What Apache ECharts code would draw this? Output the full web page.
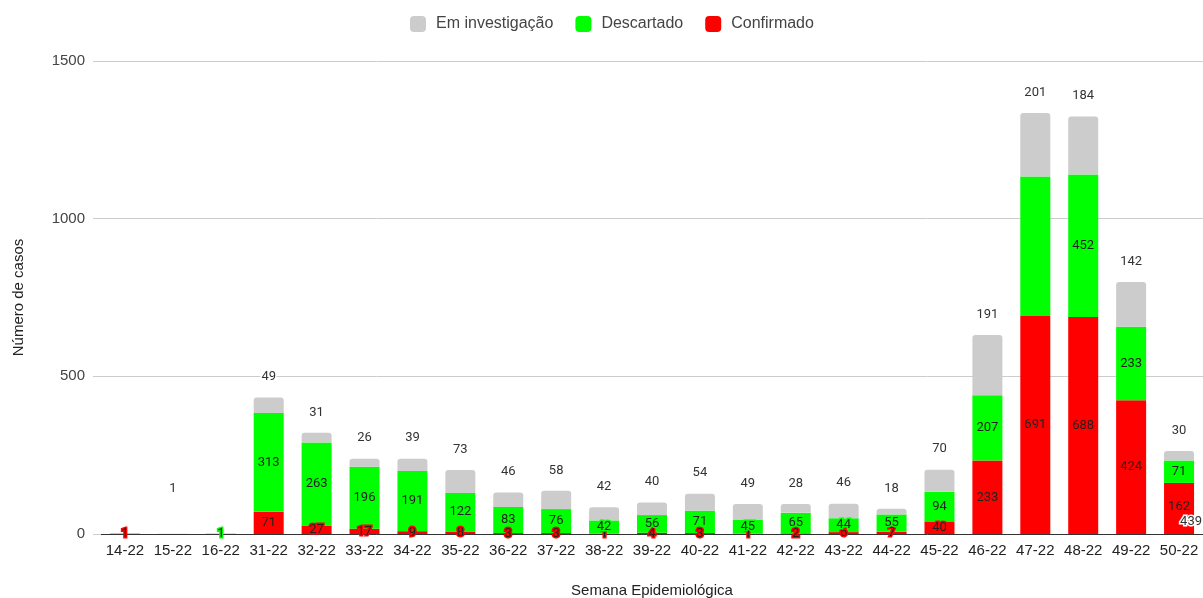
<!DOCTYPE html>
<html>
<head>
<meta charset="utf-8">
<script src="https://cdn.jsdelivr.net/npm/echarts@6/dist/echarts.min.js"></script>
<style>
html,body{margin:0;padding:0;background:#fff;}
#chart{width:1203px;height:598px;}
</style>
</head>
<body>
<div id="chart"></div>
<script>
const categories = ['14-22','15-22','16-22','31-22','32-22','33-22','34-22','35-22','36-22','37-22','38-22','39-22','40-22','41-22','42-22','43-22','44-22','45-22','46-22','47-22','48-22','49-22','50-22'];
const confirmado = [1,0,0,71,27,17,9,8,3,3,1,4,3,1,2,6,7,40,233,691,688,424,162];
const descartado = [0,0,1,313,263,196,191,122,83,76,42,56,71,45,65,44,55,94,207,443,452,233,71];
const investigacao = [0,1,0,49,31,26,39,73,46,58,42,40,54,49,28,46,18,70,191,201,184,142,30];
const extraLabel = '439';
const yTicks = [0,500,1000,1500];

const COL_RED = '#ff0000', COL_GREEN = '#00ff00', COL_GRAY = '#cccccc';
const lblFont = 'Roboto';

function insideItems(arr, hideIdx) {
  return arr.map((v, i) => {
    const item = { value: v };
    if (v === 0 || (hideIdx && hideIdx.includes(i))) item.label = { show: false };
    return item;
  });
}

const redData = insideItems(confirmado);
const lastIdx = categories.length - 1;
redData[lastIdx].label = {
  show: true,
  formatter: '{a|{c}}\n{b|' + extraLabel + '}',
  rich: {
    a: { fontFamily: lblFont, fontSize: 13, color: '#222', textBorderColor: COL_RED, textBorderWidth: 3, padding: [0,0,2,0] },
    b: { fontFamily: lblFont, fontSize: 13, color: '#333', textBorderColor: '#fff', textBorderWidth: 3, padding: [0,0,0,24] }
  },
  offset: [0, 6]
};

const greenData = insideItems(descartado, [19]);
const grayData = investigacao.map((v, i) => {
  const item = { value: v };
  if (v === 0) item.label = { show: false };
  if (i === 1) item.label = { distance: 38 };
  return item;
});

const insideLabel = (color) => ({
  show: true,
  position: 'inside',
  fontFamily: lblFont,
  fontSize: 13,
  color: '#222',
  textBorderColor: color,
  textBorderWidth: 3
});

const chart = echarts.init(document.getElementById('chart'), null, { renderer: 'canvas' });
chart.setOption({
  animation: false,
  backgroundColor: '#fff',
  textStyle: { fontFamily: 'Liberation Sans, Arial, sans-serif' },
  legend: {
    top: 11,
    left: 405,
    data: ['Em investigação', 'Descartado', 'Confirmado'],
    itemWidth: 16,
    itemHeight: 16,
    itemGap: 22,
    icon: 'roundRect',
    textStyle: { fontSize: 16, color: '#444', fontFamily: 'Liberation Sans, Arial, sans-serif', padding: [0,0,0,5] }
  },
  grid: { left: 101, right: 0, top: 61, bottom: 64, containLabel: false, outerBoundsMode: 'none' },
  xAxis: {
    type: 'category',
    data: categories,
    name: 'Semana Epidemiológica',
    nameLocation: 'middle',
    nameGap: 49,
    nameTextStyle: { fontSize: 15, color: '#222' },
    axisLine: { lineStyle: { color: '#333', width: 1 } },
    axisTick: { show: false },
    axisLabel: { fontSize: 15, color: '#222', margin: 9, interval: 0 }
  },
  yAxis: {
    type: 'value',
    min: 0,
    max: 1500,
    interval: 500,
    name: 'Número de casos',
    nameLocation: 'middle',
    nameGap: 75,
    nameRotate: 90,
    nameTextStyle: { fontSize: 15, color: '#222' },
    axisLine: { show: false },
    axisTick: { show: true, length: 8, lineStyle: { color: '#ccc' } },
    axisLabel: { fontSize: 15, color: '#444', margin: 16,
      formatter: v => yTicks.includes(v) ? String(v) : '' },
    splitLine: { lineStyle: { color: '#cccccc', width: 1 } }
  },
  series: [
    {
      name: 'Confirmado', type: 'bar', stack: 'total', barWidth: 30,
      itemStyle: { color: COL_RED },
      label: insideLabel(COL_RED),
      data: redData
    },
    {
      name: 'Descartado', type: 'bar', stack: 'total', barWidth: 30,
      itemStyle: { color: COL_GREEN },
      label: insideLabel(COL_GREEN),
      data: greenData
    },
    {
      name: 'Em investigação', type: 'bar', stack: 'total', barWidth: 30,
      itemStyle: { color: COL_GRAY, borderRadius: [3,3,0,0] },
      label: {
        show: true, position: 'top', distance: 14,
        fontFamily: lblFont, fontSize: 13, color: '#333',
        textBorderColor: '#fff', textBorderWidth: 3
      },
      data: grayData
    }
  ]
});
</script>
</body>
</html>
